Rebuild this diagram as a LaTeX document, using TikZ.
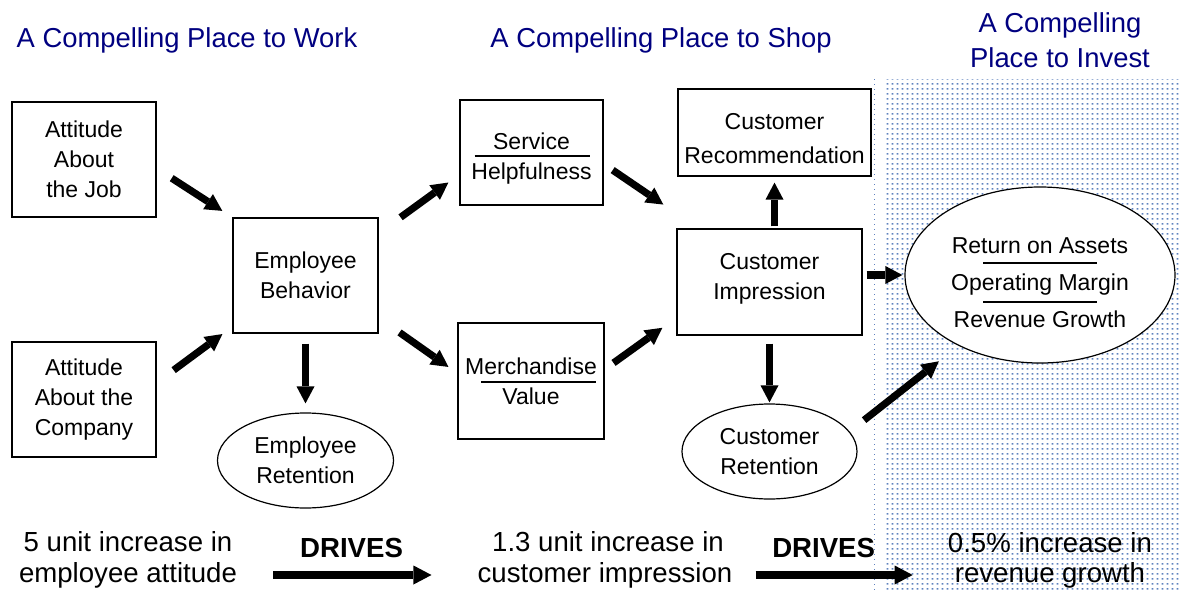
\documentclass[tikz,border=0pt]{standalone}
\usepackage{fontspec}
\setmainfont{Liberation Sans}
\usepackage{xcolor}
\usepackage{tikz}
\usetikzlibrary{arrows.meta,shapes.geometric,patterns.meta}

\definecolor{navyblue}{RGB}{0,0,128}
\definecolor{dotblue}{RGB}{95,130,190}

\pgfdeclarepattern{
  name=bluedots, type=uncolored,
  bottom left={\pgfpoint{0pt}{0pt}}, top right={\pgfpoint{2.7pt}{2.5pt}},
  tile size={\pgfpoint{2.7pt}{2.5pt}},
  code={\pgfpathrectangle{\pgfpoint{0.9pt}{0.8pt}}{\pgfpoint{0.9pt}{0.85pt}}\pgfusepath{fill}}
}

\newcommand{\boxfont}{\fontsize{11.5}{15}\selectfont}
\newcommand{\headfont}{\fontsize{13.7}{17.5}\selectfont}
\newcommand{\footfont}{\fontsize{13.8}{16.5}\selectfont}
\newcommand{\lowertext}[2]{\raisebox{-#1}[\height][\depth]{\begin{tabular}{@{}c@{}}#2\end{tabular}}}

\begin{document}
\begin{tikzpicture}[x=0.5pt,y=0.5pt,yscale=-1,xscale=1,
    box/.style={draw, line width=0.6pt, fill=white, inner sep=0pt, align=center, font=\boxfont},
    oval/.style={box, ellipse},
    heading/.style={text=navyblue, inner sep=0pt, align=center, font=\headfont},
    footer/.style={inner sep=0pt, font=\footfont},
    fat/.style={line width=3.6pt, -{Triangle[length=8.5pt,width=9pt,line width=0pt]}},
    drive/.style={line width=4pt, -{Triangle[length=9pt,width=9.5pt,line width=0pt]}},
    bar/.style={line width=0.6pt}]
        \useasboundingbox (0,0) rectangle (1180,590);
        %Shape: Rectangle (dotted area)
        \fill [pattern=bluedots, pattern color=dotblue] (886,79) rectangle (1180,590);
        \draw [dotblue, line width=0.5pt, dash pattern=on 0.5pt off 2pt] (874,79) -- (874,590);
        % Text Node
        \node [heading] (hwork) at (187,40) {A Compelling Place to Work};
        % Text Node
        \node [heading] (hshop) at (661,40) {A Compelling Place to Shop};
        % Text Node
        \node [heading] (hinvest) at (1060,40.5) {A Compelling\\Place to Invest};
        %Shape: Rectangle
        \node [box, minimum width=72pt, minimum height=57.5pt] (job) at (84,159.5) {Attitude\\About\\the Job};
        %Shape: Rectangle
        \node [box, minimum width=72pt, minimum height=57.5pt] (comp) at (84,399.5) {Attitude\\About the\\Company};
        %Shape: Rectangle
        \node [box, minimum width=72.5pt, minimum height=57.5pt] (beh) at (305.5,275.5) {Employee\\Behavior};
        %Shape: Ellipse
        \node [oval, minimum width=88pt, minimum height=47.5pt] (eret) at (305.5,460.5) {Employee\\Retention};
        %Shape: Rectangle
        \node [box, minimum width=71.5pt, minimum height=52.5pt] (serv) at (531.5,152.5) {\lowertext{2.75pt}{Service\\Helpfulness}};
        %Shape: Rectangle
        \node [box, minimum width=73pt, minimum height=58pt] (merch) at (531,381) {Merchandise\\Value};
        %Shape: Rectangle
        \node [box, minimum width=96.5pt, minimum height=43.5pt, font=\fontsize{11.5}{17}\selectfont] (rec) at (774.5,132.5) {\lowertext{3.5pt}{Customer\\Recommendation}};
        %Shape: Rectangle
        \node [box, minimum width=92.5pt, minimum height=53pt] (imp) at (769.5,282) {\lowertext{-2pt}{Customer\\Impression}};
        %Shape: Ellipse
        \node [oval, minimum width=87.5pt, minimum height=47.5pt] (cret) at (769.5,451.5) {Customer\\Retention};
        %Shape: Ellipse
        \node [oval, minimum width=135pt, minimum height=88pt, font=\fontsize{11.5}{18.5}\selectfont] (big) at (1040,275) {\lowertext{4.25pt}{Return on Assets\\Operating Margin\\Revenue Growth}};
        %Straight Lines
        \draw [bar] (serv.center) ++(-57,3.5) -- ++(115,0);
        \draw [bar] (merch.center) ++(-50,1) -- ++(115,0);
        \draw [bar] (big.center) ++(-57,-12) -- ++(114,0);
        \draw [bar] (big.center) ++(-57,27) -- ++(114,0);
        %Straight Lines
        \draw [fat, shorten <=9pt, shorten >=6pt] (job.-7) -- (beh.north west);
        \draw [fat, shorten <=10.6pt, shorten >=6.2pt] (comp.13) -- (beh.215);
        \draw [fat, shorten <=5pt, shorten >=4.5pt] (beh.south) -- (eret.north);
        \draw [fat, shorten <=13.6pt, shorten >=6.8pt] (beh.30) -- (serv.197);
        \draw [fat, shorten <=12.8pt, shorten >=5.5pt] (beh.-30) -- (merch.174);
        \draw [fat, shorten <=5.5pt, shorten >=21.2pt] (serv.-9) -- (imp.143.5);
        \draw [fat, shorten <=5.5pt, shorten >=8.6pt] (merch.9) -- (imp.201);
        \draw [fat, shorten <=1pt, shorten >=3pt] (rec.south |- imp.north) -- (rec.south);
        \draw [fat, shorten <=4pt, shorten >=0.5pt] (imp.south) -- (cret.north);
        \draw [fat, shorten <=2pt, shorten >=1pt] (big.west -| imp.east) -- (big.west);
        \draw [fat, shorten <=9.2pt, shorten >=12.5pt] (cret.14.5) -- (big.221.5);
        % Text Node
        \node [footer] (lowa) at (128,542) {5 unit increase in};
        \node [footer] (lowb) at (128,575) {employee attitude};
        % Text Node
        \node [footer] (mida) at (608,542) {1.3 unit increase in};
        \node [footer] (midb) at (605,575) {customer impression};
        % Text Node
        \node [footer] (higha) at (1050,543) {0.5\% increase in};
        \node [footer] (highb) at (1050,575) {revenue growth};
        %Straight Lines
        \draw [drive, shorten <=18pt, shorten >=22.9pt] (lowb.east) -- node [pos=0.476, above=6.5pt, inner sep=0pt, font=\footfont\bfseries] (drivea) {DRIVES} (midb.west);
        \draw [drive, shorten <=11.4pt, shorten >=20.9pt] (midb.east) -- node [pos=0.41, above=6.5pt, inner sep=0pt, font=\footfont\bfseries] (driveb) {DRIVES} (highb.west);
\end{tikzpicture}
\end{document}
